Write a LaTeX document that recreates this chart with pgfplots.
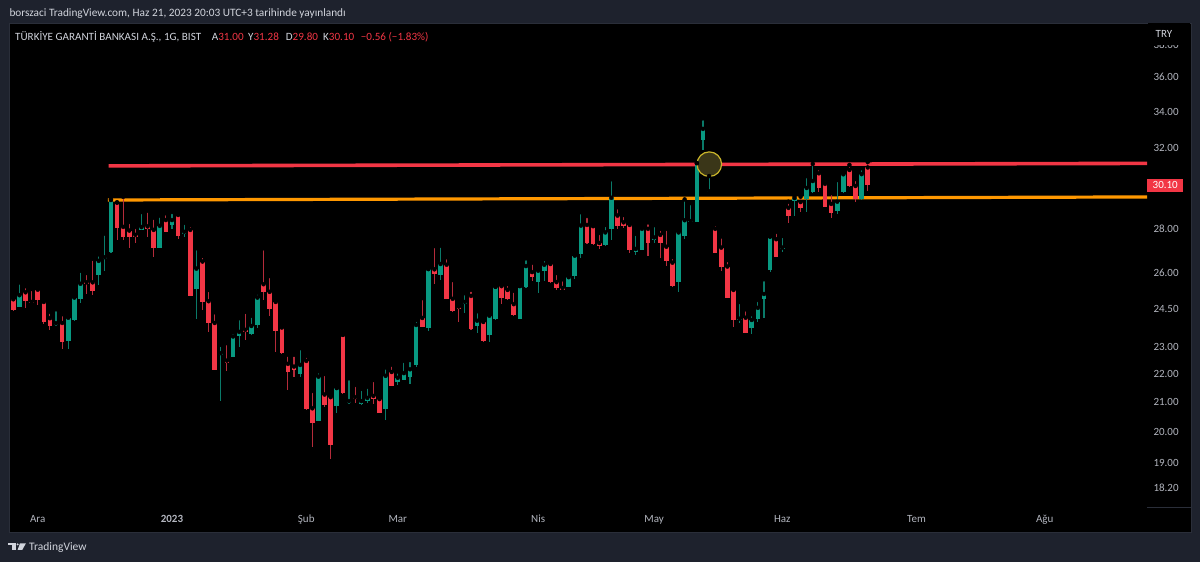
\documentclass[border=0pt]{standalone}
\usepackage{pgfplots}
\usepackage{pgfplotstable}
\pgfplotsset{compat=1.18}
\usepackage{fontspec}
\setmainfont{Carlito}
\definecolor{bg}{HTML}{1E222D}
\definecolor{frame}{HTML}{2A2E39}
\definecolor{txt}{HTML}{D1D4DC}
\definecolor{tick}{HTML}{B2B5BE}
\definecolor{upc}{HTML}{089981}
\definecolor{dnc}{HTML}{F23645}
\definecolor{upw}{HTML}{0A7A69}
\definecolor{dnw}{HTML}{B52B3A}
\definecolor{resred}{HTML}{F23645}
\definecolor{suporange}{HTML}{FF9800}
\definecolor{circfill}{HTML}{3A3618}
\definecolor{circline}{HTML}{C9B52A}

\pgfplotstableread{
i o h l c
1 24.61 25.62 24.58 25.08
7 23.87 24.50 23.84 23.94
9 23.26 24.20 22.93 24.16
10 24.06 25.02 24.03 24.98
11 24.91 26.12 24.74 25.56
14 25.93 26.84 25.51 26.55
15 26.65 27.78 26.11 26.71
16 26.93 29.40 26.91 29.37
21 27.96 28.79 27.95 28.08
24 27.14 28.62 27.13 28.14
26 28.18 28.79 28.00 28.41
28 27.78 28.28 27.60 27.86
30 25.34 27.11 24.11 26.21
34 22.73 23.10 21.06 22.78
36 22.64 23.59 22.63 23.42
37 23.45 24.14 23.03 23.60
39 23.52 24.24 23.46 23.83
40 23.87 25.19 23.77 24.98
47 22.01 22.97 21.89 22.34
50 20.36 22.11 20.35 21.91
53 20.87 21.51 20.64 21.50
55 20.96 21.85 20.95 21.04
57 20.94 21.47 20.90 21.04
58 21.04 21.55 20.99 21.15
61 20.78 22.25 20.39 21.94
63 21.72 22.10 21.62 21.87
64 21.79 22.49 21.78 22.04
65 21.89 22.52 21.65 22.18
66 22.33 24.07 22.28 23.87
68 23.77 26.20 23.65 26.19
70 25.93 27.23 25.72 26.41
74 24.73 25.16 24.34 24.80
76 23.82 24.42 23.55 24.04
78 23.47 24.30 23.21 24.24
79 24.11 25.44 24.08 25.43
83 24.11 25.47 24.10 25.46
84 25.43 26.66 25.40 26.32
86 25.65 26.25 25.19 26.12
87 26.12 26.63 25.68 26.38
91 25.43 25.99 25.42 25.84
92 25.89 26.84 25.75 26.78
93 26.86 28.78 26.69 28.15
97 27.24 28.18 27.21 27.83
98 27.98 30.40 27.49 29.48
102 26.93 27.77 26.81 27.08
103 27.05 28.15 27.04 28.00
105 27.48 28.17 27.37 27.60
109 25.65 27.98 25.23 27.83
110 27.68 29.40 27.52 28.40
111 28.30 29.22 28.25 28.36
112 28.33 31.23 28.30 31.22
113 32.46 33.63 31.91 33.05
114 29.76 30.56 29.74 29.80
119 24.07 24.80 23.94 24.12
121 23.75 24.30 23.52 24.07
122 24.11 24.88 24.00 24.56
123 24.93 25.75 24.14 25.13
124 26.15 27.65 26.08 27.64
126 27.06 27.67 26.95 27.14
128 29.34 29.57 28.62 29.47
130 29.40 30.56 28.81 29.96
131 29.74 31.18 29.69 30.31
135 28.83 30.36 28.68 29.29
136 29.74 30.70 29.69 30.65
139 29.40 30.96 29.37 30.66
}\updata

\pgfplotstableread{
i o h l c
0 24.91 25.02 24.44 24.47
2 25.20 25.46 24.56 24.85
3 24.80 25.34 24.74 24.76
4 25.31 25.34 24.67 24.87
5 24.80 24.96 23.91 24.00
6 24.14 24.40 23.67 23.85
8 23.95 24.30 22.94 23.21
12 25.62 26.02 25.14 25.54
13 25.62 26.65 25.09 25.26
17 29.24 29.26 27.49 28.03
18 28.09 29.53 27.49 27.63
19 27.92 28.32 27.14 27.61
20 27.72 28.09 27.34 27.64
22 28.11 28.86 27.61 28.00
23 27.95 28.52 26.74 27.14
25 28.41 28.73 27.83 27.86
27 28.65 28.68 27.54 27.69
29 27.95 28.18 25.04 25.06
31 26.52 26.77 24.47 24.81
32 24.83 25.30 23.61 23.94
33 23.95 24.38 22.14 22.15
35 22.50 23.16 22.11 22.40
38 23.68 24.40 23.29 23.60
41 25.54 27.11 24.88 25.20
42 25.22 25.89 24.24 24.52
43 24.80 24.88 22.84 23.65
44 23.77 23.90 22.75 22.78
45 22.38 22.72 21.43 22.09
46 22.28 22.72 21.91 22.15
48 22.49 22.68 20.73 20.75
49 20.79 21.40 19.51 20.30
51 21.27 22.01 20.82 20.92
52 21.18 21.22 19.12 19.56
54 23.48 23.49 21.30 21.31
56 21.18 21.61 20.96 21.11
59 21.22 21.79 20.94 21.11
60 21.11 21.25 20.62 20.64
62 22.08 22.35 21.56 21.58
67 24.15 24.96 23.80 23.81
69 26.18 27.21 25.55 25.99
71 26.38 26.71 24.91 24.92
72 24.93 25.72 24.39 24.42
73 24.61 24.74 23.98 24.52
75 25.05 25.30 23.69 23.72
77 23.99 24.12 23.22 23.25
80 25.46 25.55 24.71 24.98
81 25.30 25.55 24.88 24.91
82 24.71 25.27 24.24 24.27
85 26.06 26.47 25.67 25.84
88 26.41 26.49 25.61 25.65
89 25.63 26.02 25.31 25.36
90 25.38 25.75 25.29 25.31
94 28.18 28.60 27.31 27.34
95 28.12 28.15 27.26 27.29
96 27.35 27.81 27.06 27.20
99 28.62 29.02 28.00 28.11
100 28.30 28.65 28.02 28.15
101 28.18 28.30 26.91 27.03
104 28.00 28.30 26.78 27.34
106 27.72 28.00 26.69 27.34
107 27.18 28.00 26.31 26.56
108 26.47 26.72 25.43 25.46
115 28.00 28.22 26.88 26.91
116 27.14 27.65 26.12 26.30
117 26.30 26.59 24.97 24.98
118 25.30 25.33 23.81 24.07
120 24.16 24.50 23.56 23.57
125 27.52 27.86 26.73 26.74
127 28.99 29.29 28.25 28.62
129 29.27 29.53 28.77 28.99
132 30.70 30.96 29.75 29.96
133 30.17 30.36 29.03 29.04
134 29.18 29.71 28.53 28.76
137 30.87 31.13 30.03 30.06
138 30.06 30.41 29.26 29.42
140 31.00 31.28 29.80 30.10
}\dndata

\pgfplotstableread{
x p
15.6 31.08
185.76 31.21
}\resline
\pgfplotstableread{
x p
15.5 29.37
185.76 29.52
}\supline
\pgfplotstableread{
x p
114.04 31.17
}\circpt

\begin{document}
\begin{tikzpicture}[x=1pt,y=1pt]
\fill[bg] (0,0) rectangle (1200,562);
\fill[black] (9,30) rectangle (1191,539);
\draw[frame, line width=0.8pt] (9,30) rectangle (1191,539);
\node[anchor=west, text=txt, font=\fontsize{11.3}{13}\selectfont, inner sep=0] at (9.3,548) {borszaci TradingView.com, Haz 21, 2023 20:03 UTC+3 tarihinde yayınlandı};
\begin{scope}[every node/.style={anchor=west, inner sep=0, font=\fontsize{11.1}{13}\selectfont, text=txt}]
\node at (15,525) {TÜRKİYE GARANTİ BANKASI A.Ş., 1G, BIST};
\node at (211.7,525) {A\textcolor{dnc}{31.00}};
\node at (248,525) {Y\textcolor{dnc}{31.28}};
\node at (285.7,525) {D\textcolor{dnc}{29.80}};
\node at (323,525) {K\textcolor{dnc}{30.10}};
\node[text=dnc] at (360.7,525) {−0.56 (−1.83\%)};
\end{scope}
\begin{axis}[
  at={(9pt,55pt)}, anchor=south west,
  width=1138pt, height=482pt, scale only axis,
  xmin=-0.705, xmax=185.76,
  ymin=2.87073, ymax=3.67021,
  clip=false,
  axis line style={draw=none},
  major tick length=0pt, minor tick num=0,
  xtick={4,26,48,63,86,105,126,148,169},
  xticklabels={Ara,\textbf{2023},Şub,Mar,Nis,May,Haz,Tem,Ağu},
  ytick={2.90142,2.94444,2.99573,3.04452,3.09104,3.13549,3.19867,3.25810,3.33220,3.46574,3.52636,3.58352,3.63759},
  yticklabels={18.20,19.00,20.00,21.00,22.00,23.00,24.50,26.00,28.00,32.00,34.00,36.00,38.00},
  yticklabel pos=right,
  ticklabel style={font=\fontsize{11}{13}\selectfont, text=tick},
  yticklabel style={anchor=west, inner sep=0pt, xshift=6.3pt, text height=7pt, text depth=0pt},
  xticklabel style={anchor=center, inner sep=0pt, yshift=-13pt, text height=7pt, text depth=2pt},
]
% highlight circle
\addplot[only marks, mark=*, mark size=12.3pt, mark options={fill=circfill, draw=circline, line width=1.2pt}] table[x=x, y expr=ln(\thisrow{p})] {\circpt};
% resistance / support lines
\addplot[resred, line width=3.6pt, mark=none] table[x=x, y expr=ln(\thisrow{p})] {\resline};
\addplot[suporange, line width=3.2pt, mark=none] table[x=x, y expr=ln(\thisrow{p})] {\supline};
% wicks
\addplot[only marks, mark=none, error bars/.cd, y dir=minus, y explicit, error mark=none,
  error bar style={draw=upw, line width=1.1pt}]
  table[x=i, y expr=ln(\thisrow{h}), y error minus expr=ln(\thisrow{h})-ln(\thisrow{l})] {\updata};
\addplot[only marks, mark=none, error bars/.cd, y dir=minus, y explicit, error mark=none,
  error bar style={draw=dnw, line width=1.1pt}]
  table[x=i, y expr=ln(\thisrow{h}), y error minus expr=ln(\thisrow{h})-ln(\thisrow{l})] {\dndata};
% bodies
\addplot[only marks, mark=none, error bars/.cd, y dir=minus, y explicit, error mark=none,
  error bar style={draw=upc, line width=4.6pt}]
  table[x=i, y expr=ln(\thisrow{c}), y error minus expr=ln(\thisrow{c})-ln(\thisrow{o})] {\updata};
\addplot[only marks, mark=none, error bars/.cd, y dir=minus, y explicit, error mark=none,
  error bar style={draw=dnc, line width=4.6pt}]
  table[x=i, y expr=ln(\thisrow{o}), y error minus expr=ln(\thisrow{o})-ln(\thisrow{c})] {\dndata};
% last price label
\node[anchor=west, fill=dnc, text=white, inner sep=0pt, minimum width=36pt, minimum height=13pt, font=\fontsize{11}{13}\selectfont] at (axis cs:185.76,3.404525) {30.10};
\end{axis}
% hide top half of clipped 38.00 label, then TRY
\fill[black] (1148,517.3) rectangle (1190,538.5);
\node[text=txt, font=\fontsize{11}{13}\selectfont, inner sep=0] at (1164,528) {TRY};
\draw[frame, line width=0.8pt] (1147,55) -- (1191,55);
% TradingView logo
\begin{scope}
\fill[txt] (8.3,18.7) rectangle (15.7,16.5);
\fill[txt] (12.3,18.7) rectangle (15.7,12);
\fill[txt] (17.7,17.6) circle (1.1);
\fill[txt] (20,18.7) -- (25.9,18.7) -- (22.2,12) -- (17.6,12) -- cycle;
\end{scope}
\node[anchor=west, text=txt, font=\fontsize{11.5}{13}\selectfont, inner sep=0] at (29,15) {TradingView};
\pgfresetboundingbox
\path (0,0) rectangle (1200,562);
\end{tikzpicture}
\end{document}
